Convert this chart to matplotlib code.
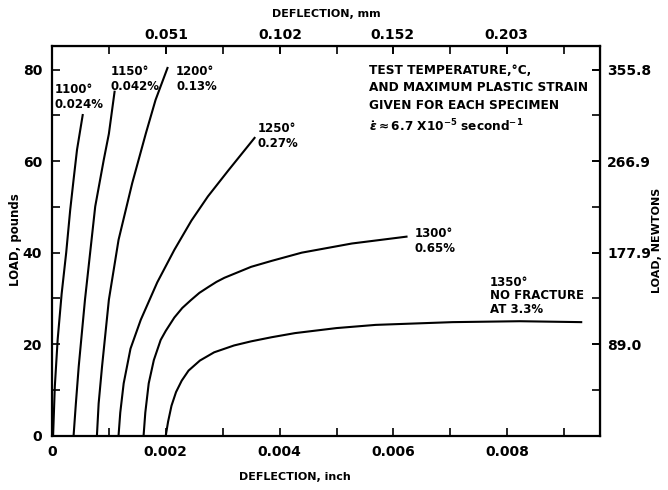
import matplotlib
matplotlib.use('Agg')
import matplotlib.pyplot as plt
from matplotlib.ticker import MultipleLocator, FormatStrFormatter

plt.rcParams['font.family'] = 'DejaVu Sans'
plt.rcParams['font.weight'] = 'bold'

# ── data (deflection in inch, load in pounds) ─────────────────────────────────
x1100 = [0.00002, 0.00005, 0.00010, 0.00017, 0.00025, 0.00032, 0.00038, 0.00044, 0.00054]
y1100 = [0, 10.7, 21, 31, 40, 49.3, 56, 62.5, 70.1]

x1150 = [0.00038, 0.00042, 0.00047, 0.00058, 0.00067, 0.00076, 0.00091, 0.00100, 0.00110]
y1150 = [0, 7, 15.1, 29.7, 39.9, 50.1, 60.3, 66, 75.2]

x1200 = [0.00079, 0.00082, 0.00088, 0.00100, 0.00117, 0.00141, 0.00165, 0.00182, 0.00203]
y1200 = [0, 7, 15.1, 29.7, 42.8, 55.2, 66.1, 73.4, 80.4]

x1250 = [0.00117, 0.00120, 0.00126, 0.00138, 0.00156, 0.00185, 0.00215, 0.00245, 0.00274, 0.00310, 0.00356]
y1250 = [0, 5, 11.4, 19, 25.3, 33.5, 40.6, 47, 52.3, 58, 65.1]

x1300 = [0.00161, 0.00164, 0.00170, 0.00179, 0.00191, 0.00200, 0.00215, 0.00229, 0.00244, 0.00259,
         0.00275, 0.00289, 0.00303, 0.00350, 0.00386, 0.00439, 0.00527, 0.00623]
y1300 = [0, 5, 11.4, 16.5, 20.9, 22.9, 25.8, 27.9, 29.6, 31.2, 32.5, 33.6, 34.5, 36.9, 38.2, 40.0, 42.0, 43.5]

x1350 = [0.00200, 0.00204, 0.00210, 0.00218, 0.00228, 0.00240, 0.00260, 0.00285, 0.00320, 0.00350,
         0.00386, 0.00427, 0.00500, 0.00569, 0.00704, 0.00822, 0.00930]
y1350 = [0, 3, 6.5, 9.5, 12, 14.2, 16.4, 18.2, 19.7, 20.6, 21.5, 22.4, 23.5, 24.2, 24.8, 25.0, 24.8]

bottom_ticks = [0, 0.002, 0.004, 0.006, 0.008]
bottom_labels = ['0', '0.002', '0.004', '0.006', '0.008']
left_ticks = [0, 20, 40, 60, 80]
mm_ticks = [0.051, 0.102, 0.152, 0.203]
newton_ticks = [89.0, 177.9, 266.9, 355.8]

curve_labels = ['1100°\n0.024%', '1150°\n0.042%', '1200°\n0.13%', '1250°\n0.27%',
                '1300°\n0.65%', '1350°\nNO FRACTURE\nAT 3.3%']
note = ('TEST TEMPERATURE,°C,\nAND MAXIMUM PLASTIC STRAIN\nGIVEN FOR EACH SPECIMEN\n'
        r'$\dot{\epsilon}\approx$6.7 X10$^{-5}$ second$^{-1}$')

IN2MM = 25.4
LB2N = 4.448

fig = plt.figure(figsize=(6.68, 4.90), dpi=100, facecolor='white')
ax = fig.add_axes([0.0778, 0.1112, 0.8204, 0.7949])

series = [(x1100, y1100), (x1150, y1150), (x1200, y1200),
          (x1250, y1250), (x1300, y1300), (x1350, y1350)]
for xs, ys in series:
    ax.plot(xs, ys, color='black', lw=1.5, solid_joinstyle='round')

ax.set_xlim(0, 0.00963)
ax.set_ylim(0, 85.2)

# curve labels (data coords of the top-left corner)
label_pos = [(0.00005, 77.1), (0.00103, 81.0), (0.00218, 81.0),
             (0.00361, 68.6), (0.00637, 45.7), (0.00769, 35.0)]
spacing = [1.2, 1.2, 1.2, 1.2, 1.2, 1.05]
for (lx, ly), txt, ls in zip(label_pos, curve_labels, spacing):
    ax.text(lx, ly, txt, fontsize=8.5, fontweight='bold', ha='left', va='top',
            linespacing=ls)

ax.text(0.00557, 81.3, note, fontsize=8.7, fontweight='bold', ha='left', va='top',
        linespacing=1.45)

# ── axes styling ──────────────────────────────────────────────────────────────
for sp in ax.spines.values():
    sp.set_linewidth(1.6)

ax.set_xticks(bottom_ticks)
ax.set_xticklabels(bottom_labels)
ax.xaxis.set_minor_locator(MultipleLocator(0.001))
ax.set_yticks(left_ticks)
ax.yaxis.set_minor_locator(MultipleLocator(10))
ax.tick_params(which='both', direction='in', width=1.2, length=6, labelsize=10)
ax.tick_params(axis='x', pad=7)
ax.tick_params(axis='y', pad=7)

ax.set_xlabel('DEFLECTION, inch', fontsize=8, fontweight='bold')
ax.xaxis.set_label_coords(0.443, -0.094)
ax.set_ylabel('LOAD, pounds', fontsize=8.5, fontweight='bold')
ax.yaxis.set_label_coords(-0.055, 0.502)

top = ax.secondary_xaxis('top', functions=(lambda v: v * IN2MM, lambda v: v / IN2MM))
top.set_xticks(mm_ticks)
top.xaxis.set_major_formatter(FormatStrFormatter('%.3f'))
top.xaxis.set_minor_locator(MultipleLocator(0.001 * IN2MM))
top.tick_params(which='both', direction='in', length=6, width=1.2, labelsize=10, pad=3)
top.set_xlabel('DEFLECTION, mm', fontsize=8, fontweight='bold', labelpad=8)

right = ax.secondary_yaxis('right', functions=(lambda v: v * LB2N, lambda v: v / LB2N))
right.set_yticks(newton_ticks)
right.yaxis.set_major_formatter(FormatStrFormatter('%.1f'))
right.yaxis.set_minor_locator(MultipleLocator(10 * LB2N))
right.tick_params(which='both', direction='in', length=6, width=1.2, labelsize=10, pad=5)
right.set_ylabel('LOAD, NEWTONS', fontsize=8, fontweight='bold', labelpad=1)

fig.savefig('out.png', dpi=100, facecolor='white')
